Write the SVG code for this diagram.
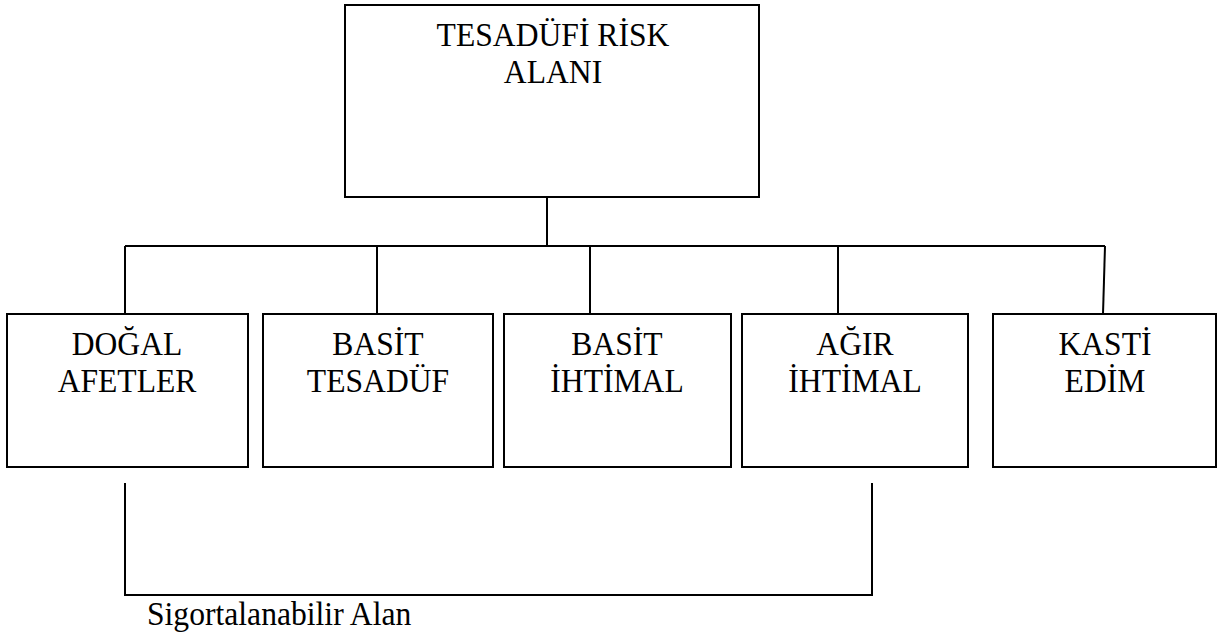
<svg xmlns="http://www.w3.org/2000/svg" width="1219" height="636" viewBox="0 0 1219 636">
<style>
.box{fill:#fff;stroke:#000;stroke-width:2}
.ln{fill:none;stroke:#000;stroke-width:2}
.t{font-family:'Liberation Serif','Times New Roman',serif;font-size:34px;fill:#000;text-anchor:middle}
</style>
<rect width="1219" height="636" fill="#fff"/>
<g id="connectors">
<line class="ln" x1="547" y1="197" x2="547" y2="246"/>
<line class="ln" x1="125" y1="246" x2="1105" y2="246"/>
<line class="ln" x1="125" y1="246" x2="125" y2="314"/>
<line class="ln" x1="377" y1="246" x2="377" y2="314"/>
<line class="ln" x1="590" y1="246" x2="590" y2="314"/>
<line class="ln" x1="838" y1="246" x2="838" y2="314"/>
<line class="ln" x1="1105" y1="246" x2="1103" y2="314"/>
<polyline class="ln" points="125,483 125,595 872,595 872,483"/>
</g>
<g id="top">
<rect class="box" x="345" y="5" width="414" height="192"/>
<text class="t" transform="translate(553 0) scale(0.93 1)" x="0" y="46">TESADÜFİ RİSK</text>
<text class="t" transform="translate(553 0) scale(0.93 1)" x="0" y="83">ALANI</text>
</g>
<g id="dogal">
<rect class="box" x="7" y="314" width="241" height="153"/>
<text class="t" transform="translate(127 0) scale(0.93 1)" x="0" y="355">DOĞAL</text>
<text class="t" transform="translate(127 0) scale(0.93 1)" x="0" y="392">AFETLER</text>
</g>
<g id="basit-tesaduf">
<rect class="box" x="263" y="314" width="230" height="153"/>
<text class="t" transform="translate(378 0) scale(0.93 1)" x="0" y="355">BASİT</text>
<text class="t" transform="translate(378 0) scale(0.93 1)" x="0" y="392">TESADÜF</text>
</g>
<g id="basit-ihtimal">
<rect class="box" x="504" y="314" width="227" height="153"/>
<text class="t" transform="translate(617 0) scale(0.93 1)" x="0" y="355">BASİT</text>
<text class="t" transform="translate(617 0) scale(0.93 1)" x="0" y="392">İHTİMAL</text>
</g>
<g id="agir-ihtimal">
<rect class="box" x="742" y="314" width="226" height="153"/>
<text class="t" transform="translate(855 0) scale(0.93 1)" x="0" y="355">AĞIR</text>
<text class="t" transform="translate(855 0) scale(0.93 1)" x="0" y="392">İHTİMAL</text>
</g>
<g id="kasti-edim">
<rect class="box" x="993" y="314" width="223" height="153"/>
<text class="t" transform="translate(1105 0) scale(0.93 1)" x="0" y="355">KASTİ</text>
<text class="t" transform="translate(1105 0) scale(0.93 1)" x="0" y="392">EDİM</text>
</g>
<g id="label">
<text class="t" transform="translate(147 0) scale(0.93 1)" x="0" y="625" style="text-anchor:start">Sigortalanabilir Alan</text>
</g>
</svg>
